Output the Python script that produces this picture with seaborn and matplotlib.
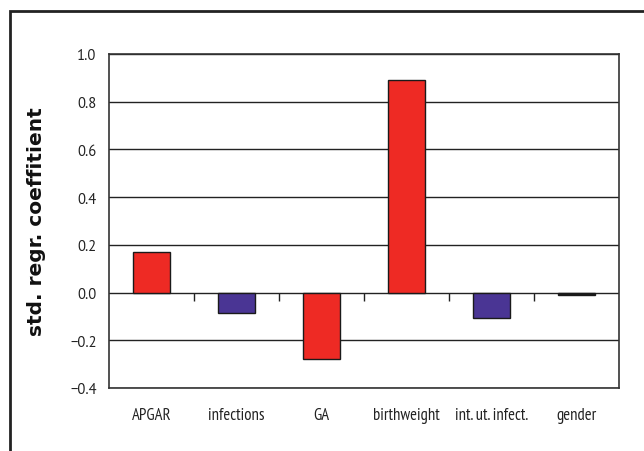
"""Standardized regression coefficients per predictor."""
import matplotlib

matplotlib.use("Agg")
import matplotlib.pyplot as plt
import pandas as pd
import seaborn as sns
from matplotlib.patches import Rectangle

PREDICTORS = ["APGAR", "infections", "GA", "birthweight", "int. ut. infect.", "gender"]
COEFS = [0.17, -0.085, -0.277, 0.892, -0.106, -0.01]
BAR_COLORS = ["#EE2A24", "#4A3594", "#EE2A24", "#EE2A24", "#4A3594", "#1a1a1a"]
Y_TICKS = [-0.4, -0.2, 0.0, 0.2, 0.4, 0.6, 0.8, 1.0]
Y_TICKLABELS = ["\u22120.4", "\u22120.2", "0.0", "0.2", "0.4", "0.6", "0.8", "1.0"]

sns.set_theme(style="white")
plt.rcParams["font.family"] = ["PT Sans", "DejaVu Sans"]

df = pd.DataFrame({"predictor": PREDICTORS, "coef": COEFS})

W, H = 644, 452
fig = plt.figure(figsize=(W / 100, H / 100), dpi=100)
ax = fig.add_axes([109 / W, 1 - 389 / H, 510 / W, 334 / H])

sns.barplot(
    data=df, x="predictor", y="coef", hue="predictor", palette=BAR_COLORS,
    saturation=1, width=0.44, edgecolor="#1a1a1a", linewidth=1.0,
    legend=False, ax=ax, zorder=3,
)

ax.set_ylim(-0.4, 1.0)
ax.set_xlim(-0.5, len(PREDICTORS) - 0.5)
ax.set_yticks(Y_TICKS)
ax.set_yticklabels(Y_TICKLABELS)
ax.yaxis.grid(True, color="#222222", lw=1.0, zorder=0)
ax.set_axisbelow(True)
for s in ax.spines.values():
    s.set_color("#333333")
    s.set_linewidth(1.2)
ax.tick_params(axis="y", length=0, pad=9, labelsize=10.5, colors="#222222")
ax.tick_params(axis="x", length=0, pad=14, labelsize=12, colors="#222222")
for lab in ax.get_xticklabels():
    lab.set_family(["PT Sans Narrow", "DejaVu Sans"])
ax.set_xlabel("")
ax.set_ylabel("std. regr. coeffitient", fontsize=14.5, fontweight="bold",
              family=["DejaVu Sans"], color="#111111")
ax.yaxis.set_label_coords((46 - 109) / 510, 0.5)

# category separator ticks hanging from the zero line
lo, hi = ax.get_ylim()
sec = ax.secondary_xaxis((0 - lo) / (hi - lo))
sec.set_xticks([i + 0.5 for i in range(len(PREDICTORS) - 1)])
sec.set_xticklabels([])
sec.tick_params(axis="x", direction="out", length=6, width=1, color="#222222")
sec.spines["bottom"].set_visible(False)
sec.spines["top"].set_visible(False)

# outer frame (cut off at right and bottom edges)
fig.patches.append(Rectangle((10 / W, -0.1), 1.2, 1 - 12 / H + 0.1,
                             transform=fig.transFigure, fill=False,
                             edgecolor="#222222", lw=2.0))

fig.savefig("out.png", dpi=100)
